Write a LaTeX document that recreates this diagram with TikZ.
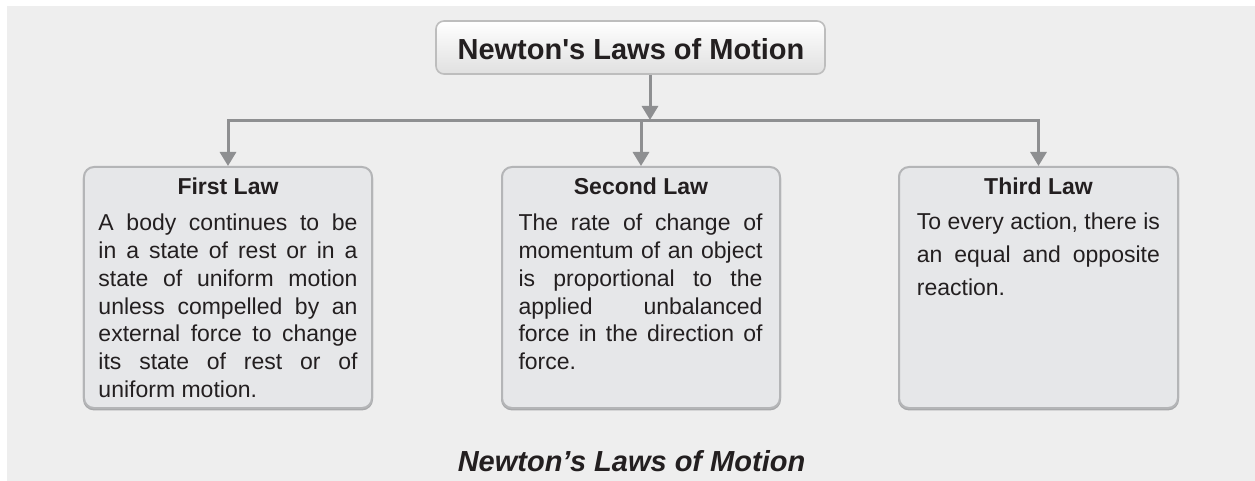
\documentclass[tikz,border=0pt]{standalone}
\usepackage{fontspec}
\setmainfont{Liberation Sans}
\usetikzlibrary{arrows.meta}
\definecolor{bg}{HTML}{EEEEEE}
\definecolor{boxfill}{HTML}{E6E7E9}
\definecolor{boxline}{HTML}{B4B5B7}
\definecolor{shadowc}{HTML}{A8A9AB}
\definecolor{conn}{HTML}{8E8F91}
\definecolor{ink}{HTML}{231F20}
\definecolor{topbot}{HTML}{E0E0E0}
\definecolor{topline}{HTML}{BDBDBD}
\tolerance=10000
\begin{document}
\begin{tikzpicture}[x=1bp,y=-1bp,
  lawbox/.style={draw=boxline, line width=2bp, fill=boxfill, rounded corners=10bp,
    minimum width=#1, minimum height=241bp, inner sep=0pt,
    preaction={draw=shadowc, line width=2bp, transform canvas={yshift=-1.4bp}}},
  topbox/.style={draw=topline, line width=1.6bp, rounded corners=8bp, top color=white,
    bottom color=topbot, minimum width=389bp, minimum height=53bp, inner sep=0pt},
  lawtitle/.style={font=\bfseries\fontsize{23bp}{27bp}\selectfont, text=ink, inner sep=0pt, anchor=base},
  lawbody/.style={font=\fontsize{23bp}{27.7bp}\selectfont, text=ink, inner sep=0pt,
    align=justify, anchor=base west},
  connline/.style={draw=conn, line width=3bp},
  connarrow/.style={connline, -{Triangle[width=16bp,length=14bp]}},
]
\useasboundingbox (0,0) rectangle (1255,481);
\fill[bg] (7,6) rectangle (1255,481);

% top box
\node[topbox] (top) at (630.5,47.5) {};
\node[font=\bfseries\fontsize{29bp}{32bp}\selectfont, text=ink, inner sep=0pt, anchor=base]
  (toptitle) at (631,59.3) {Newton\textquotesingle s Laws of Motion};

% law boxes
\node[lawbox=288bp] (first) at (228,287.5) {};
\node[lawbox=278bp] (second) at (641,287.5) {};
\node[lawbox=279bp] (third) at (1038.5,287.5) {};

\node[lawtitle] (t1) at (228,195) {First Law};
\node[lawtitle] (t2) at (641,195) {Second Law};
\node[lawtitle] (t3) at (1038.5,195) {Third Law};

\node[lawbody, text width=259bp] (b1) at (98.3,231)
 {A body continues to be\linebreak in a state of rest or in a\linebreak state of uniform motion\linebreak unless compelled by an\linebreak external force to change\linebreak its state of rest or of\linebreak uniform motion.};
\node[lawbody, text width=244bp] (b2) at (518.3,231)
 {The rate of change of\linebreak momentum of an object\linebreak is proportional to the\linebreak applied unbalanced\linebreak force in the direction of\linebreak force.};
\node[lawbody, text width=243bp, font=\fontsize{23bp}{33bp}\selectfont] (b3) at (916.7,230)
 {To every action, there is\linebreak an equal and opposite\linebreak reaction.};

% connectors
\coordinate (drop) at (650,120);
\coordinate (bus) at (641,121);
\draw[connarrow] (top.south -| drop) -- (drop);
\draw[connarrow] (bus) -| (first.north);
\draw[connarrow] (bus) -| (third.north);
\draw[connarrow] (bus) -- (second.north);

% caption
\node[font=\bfseries\itshape\fontsize{29bp}{31bp}\selectfont, text=ink, inner sep=0pt, anchor=base]
  (caption) at (631.5,471.7) {Newton’s Laws of Motion};
\end{tikzpicture}
\end{document}
